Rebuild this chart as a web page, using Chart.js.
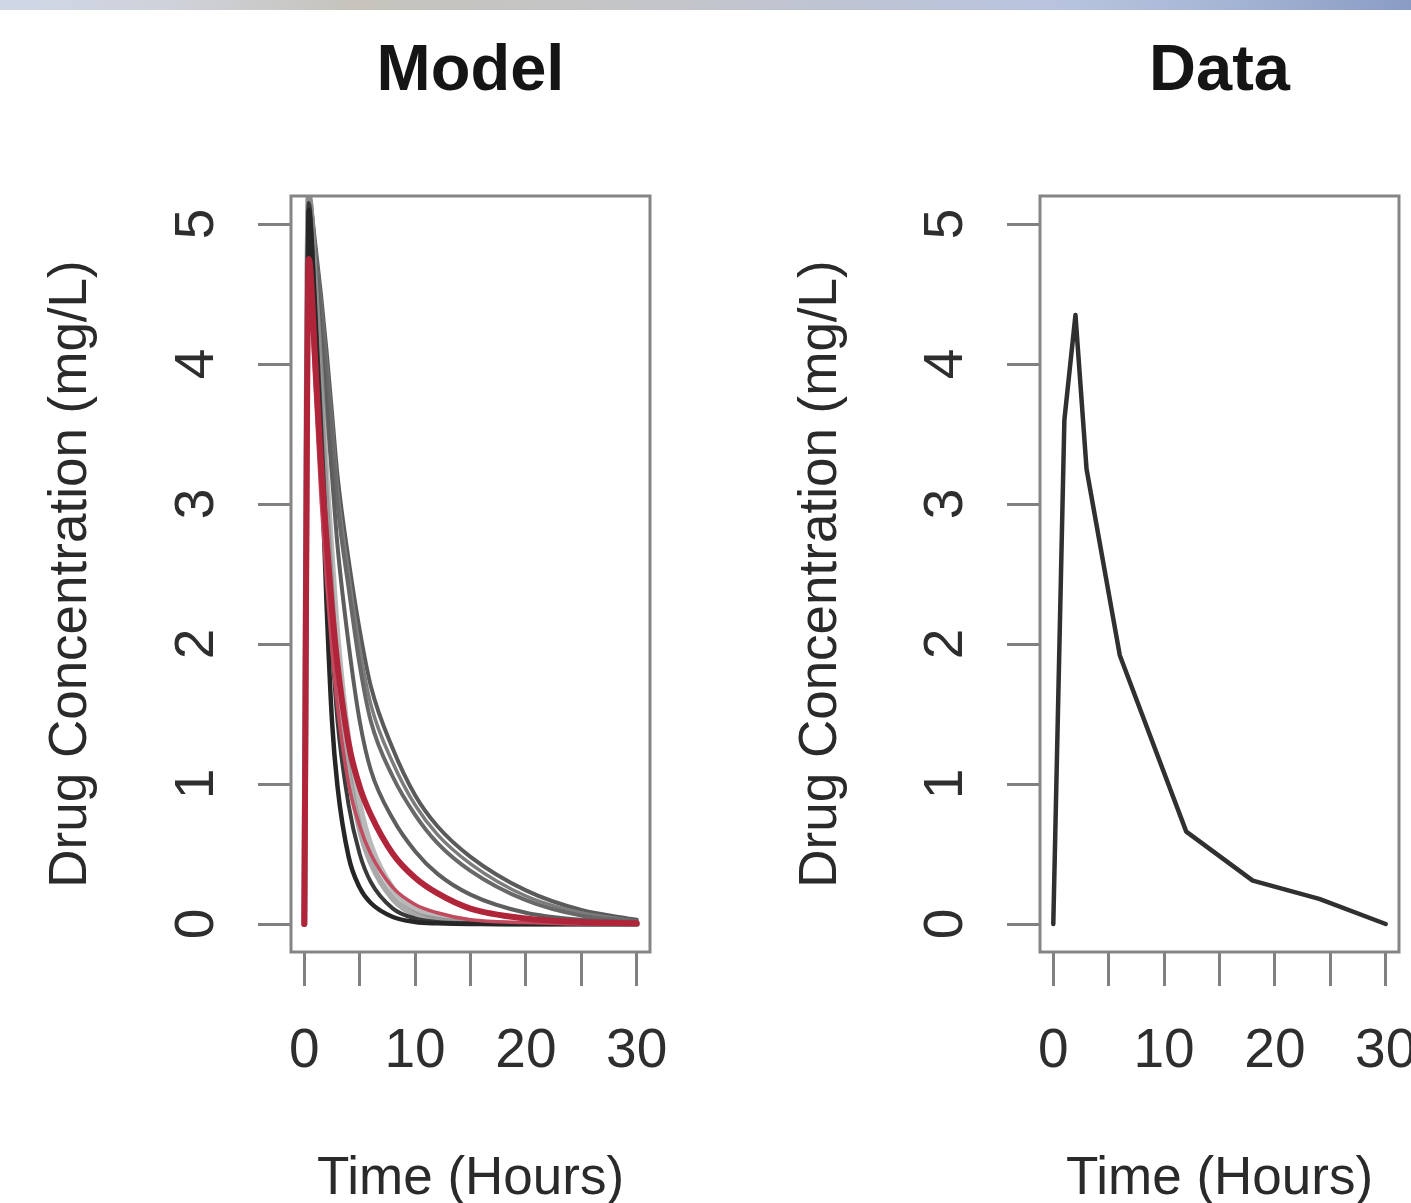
<!DOCTYPE html>
<html>
<head>
<meta charset="utf-8">
<script src="https://cdn.jsdelivr.net/npm/chart.js@4.4.1/dist/chart.umd.min.js"></script>
<style>
  html, body { margin: 0; padding: 0; background: #ffffff; width: 1411px; height: 1203px; overflow: hidden; }
  #topbar { position: absolute; left: 0; top: 0; width: 1411px; height: 10px; z-index: 5;
    background: linear-gradient(to right, #cfd7e7 0%, #cfd2da 12%, #c6c3bc 25%, #c4c5c8 45%, #bfc4d2 58%, #b8c4df 75%, #a9b8d6 85%, #899cc4 100%); }
  #left { position: absolute; left: 0; top: 0; }
  #right { position: absolute; left: 705px; top: 0; }
</style>
</head>
<body>
<div id="topbar"></div>
<canvas id="left" width="705" height="1203"></canvas>
<canvas id="right" width="706" height="1203"></canvas>
<script>
// ---------- data ----------
const PANEL_TITLES = ['Model', 'Data'];
const X_TITLE = 'Time (Hours)';
const Y_TITLE = 'Drug Concentration (mg/L)';
const X_TICKS = [0, 5, 10, 15, 20, 25, 30];
const X_TICK_LABELS = ['0', '', '10', '', '20', '', '30'];
const Y_TICKS = [0, 1, 2, 3, 4, 5];
const Y_TICK_LABELS = ['0', '1', '2', '3', '4', '5'];

// model simulation times (hours)
const MODEL_T = [0, 0.4, 1, 1.5, 2, 2.5, 3, 4, 5, 6, 8, 10, 12, 15, 20, 25, 30];
// model curves (mg/L)
const MODEL_A  = [0, 5.1, 4.3, 3.4, 2.3, 1.45, 0.98, 0.48, 0.26, 0.15, 0.05, 0.015, 0.005, 0, 0, 0, 0];
const MODEL_B  = [0, 5.15, 4.4, 3.6, 2.75, 2.0, 1.45, 0.85, 0.5, 0.3, 0.11, 0.04, 0.015, 0.005, 0, 0, 0];
const MODEL_G1 = [0, 5.2, 4.5, 3.75, 3.0, 2.3, 1.75, 1.08, 0.68, 0.44, 0.18, 0.07, 0.03, 0.01, 0, 0, 0];
const MODEL_G2 = [0, 5.2, 4.55, 3.9, 3.2, 2.6, 2.05, 1.3, 0.85, 0.56, 0.25, 0.11, 0.05, 0.015, 0, 0, 0];
const MODEL_C  = [0, 5.2, 4.7, 4.2, 3.7, 3.2, 2.7, 2.0, 1.45, 1.1, 0.75, 0.52, 0.36, 0.21, 0.08, 0.03, 0.01];
const MODEL_D  = [0, 5.2, 4.8, 4.4, 3.95, 3.5, 3.0, 2.4, 1.85, 1.45, 1.05, 0.78, 0.58, 0.38, 0.17, 0.06, 0.02];
const MODEL_D2 = [0, 5.2, 4.82, 4.45, 4.02, 3.58, 3.1, 2.5, 1.97, 1.57, 1.15, 0.85, 0.64, 0.43, 0.2, 0.08, 0.02];
const MODEL_E  = [0, 5.2, 4.85, 4.5, 4.1, 3.65, 3.2, 2.6, 2.1, 1.7, 1.25, 0.92, 0.7, 0.48, 0.24, 0.1, 0.03];
const MODEL_R1 = [0, 4.6, 3.8, 3.05, 2.45, 1.95, 1.55, 1.0, 0.7, 0.5, 0.26, 0.14, 0.08, 0.03, 0.01, 0, 0];
const MODEL_R2 = [0, 4.75, 4.0, 3.3, 2.75, 2.25, 1.85, 1.29, 0.98, 0.78, 0.5, 0.33, 0.22, 0.11, 0.04, 0.015, 0.005];

// observed data
const DATA_T = [0, 1, 2, 3, 6, 12, 18, 24, 30];
const DATA_C = [0, 3.6, 4.35, 3.25, 1.92, 0.66, 0.31, 0.18, 0];

// ---------- helpers ----------
const FONT = "'Liberation Sans', Arial, Helvetica, sans-serif";
Chart.defaults.font.family = FONT;

function pts(xs, ys) { return xs.map((x, i) => ({ x: x, y: ys[i] })); }

function line(ys, color, width, xs) {
  return {
    data: pts(xs || MODEL_T, ys),
    borderColor: color,
    borderWidth: width,
    pointRadius: 0,
    fill: false,
    cubicInterpolationMode: xs ? 'default' : 'monotone',
    tension: 0,
    borderCapStyle: 'round',
    borderJoinStyle: 'round'
  };
}

const boxPlugin = {
  id: 'rbox',
  afterDatasetsDraw(chart) {
    const a = chart.chartArea, ctx = chart.ctx;
    ctx.save();
    ctx.strokeStyle = '#858585';
    ctx.lineWidth = 3;
    ctx.strokeRect(a.left, a.top, a.right - a.left, a.bottom - a.top);
    ctx.restore();
  }
};

const yLabelPlugin = {
  id: 'ylabels',
  afterDraw(chart) {
    const s = chart.scales.y, ctx = chart.ctx;
    ctx.save();
    ctx.fillStyle = '#2e2e2e';
    ctx.font = '55px ' + FONT;
    ctx.textAlign = 'center';
    ctx.textBaseline = 'middle';
    s.ticks.forEach(t => {
      const i = Y_TICKS.indexOf(t.value);
      if (i < 0) return;
      const y = s.getPixelForValue(t.value);
      ctx.save();
      ctx.translate(s.right - 93, y);
      ctx.rotate(-Math.PI / 2);
      ctx.fillText(Y_TICK_LABELS[i], 0, 0);
      ctx.restore();
    });
    ctx.restore();
  }
};

function makeOptions(title, yWidth, yTitlePad, rightPad) {
  return {
    responsive: false,
    animation: false,
    devicePixelRatio: 1,
    events: [],
    layout: { padding: { left: 0, right: rightPad, top: 0, bottom: 0 } },
    plugins: {
      legend: { display: false },
      tooltip: { enabled: false },
      title: {
        display: true, text: title, fullSize: false, color: '#151515',
        font: { size: 65, weight: 'bold', lineHeight: 1.2 },
        padding: { top: 33, bottom: 85 }
      }
    },
    scales: {
      x: {
        type: 'linear', min: -1.2, max: 31.2,
        afterBuildTicks(scale) { scale.ticks = X_TICKS.map(v => ({ value: v })); },
        afterFit(scale) { scale.height = 251; scale.paddingLeft = 0; scale.paddingRight = 0; },
        ticks: {
          autoSkip: false, maxRotation: 0, minRotation: 0, padding: 33,
          color: '#2e2e2e', font: { size: 55, lineHeight: 1.2 },
          callback(v) { const i = X_TICKS.indexOf(v); return i < 0 ? '' : X_TICK_LABELS[i]; }
        },
        grid: { drawOnChartArea: false, drawTicks: true, tickLength: 34, color: '#808080', lineWidth: 3 },
        border: { display: false },
        title: { display: true, text: X_TITLE, color: '#2a2a2a', font: { size: 53, lineHeight: 0.9 }, padding: { top: 0, bottom: 0 } }
      },
      y: {
        type: 'linear', min: -0.2, max: 5.2,
        afterBuildTicks(scale) { scale.ticks = Y_TICKS.map(v => ({ value: v })); },
        afterFit(scale) { scale.width = yWidth; scale.paddingTop = 0; scale.paddingBottom = 0; },
        ticks: { display: false },
        grid: { drawOnChartArea: false, drawTicks: true, tickLength: 33, color: '#808080', lineWidth: 3 },
        border: { display: false },
        title: { display: true, text: Y_TITLE, color: '#2a2a2a', font: { size: 53, lineHeight: 1.2 }, padding: { top: yTitlePad, bottom: 0 } }
      }
    }
  };
}

// ---------- Model panel ----------
new Chart(document.getElementById('left'), {
  type: 'line',
  data: {
    datasets: [
      line(MODEL_R2, '#b1253b', 6),
      line(MODEL_R1, '#c24a5e', 3.5),
      line(MODEL_A, '#262626', 4.5),
      line(MODEL_B, '#3a3a3a', 4),
      line(MODEL_G1, 'rgba(140,140,140,0.75)', 6),
      line(MODEL_G2, 'rgba(155,155,155,0.7)', 6),
      line(MODEL_C, '#5e5e5e', 4),
      line(MODEL_D, '#686868', 4),
      line(MODEL_D2, '#7c7c7c', 3.5),
      line(MODEL_E, '#5a5a5a', 4)
    ]
  },
  options: makeOptions(PANEL_TITLES[0], 291, 40, 55),
  plugins: [boxPlugin, yLabelPlugin]
});

// ---------- Data panel ----------
new Chart(document.getElementById('right'), {
  type: 'line',
  data: {
    datasets: [ line(DATA_C, '#303030', 4.5, DATA_T) ]
  },
  options: makeOptions(PANEL_TITLES[1], 335, 85, 12),
  plugins: [boxPlugin, yLabelPlugin]
});
</script>
</body>
</html>
